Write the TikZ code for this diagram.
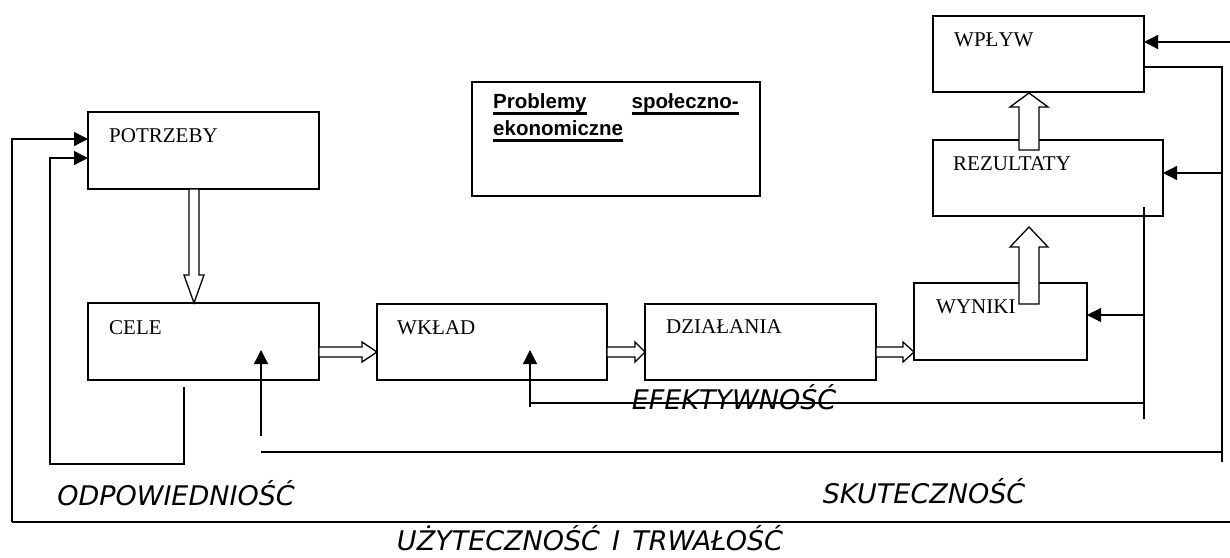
\documentclass[tikz,border=0pt]{standalone}
\usepackage{fontspec}
\setmainfont{Liberation Serif}
\newfontfamily\probfont{Liberation Sans}
\newfontfamily\lblfont{DejaVu Sans}
\usetikzlibrary{arrows.meta,calc}
\newcommand\myul[1]{\setbox0\hbox{#1}\rlap{\vrule height -3.5pt depth 6.5pt width \wd0}\box0}
\tikzset{
  box/.style={draw,line width=1.5pt,anchor=north west,inner sep=0pt,outer sep=0pt},
  btxt/.style={anchor=base west,inner sep=0pt,font=\fontsize{21}{25}\selectfont},
  ptxt/.style={anchor=base west,inner sep=0pt,font=\probfont\bfseries\fontsize{20.5}{25}\selectfont},
  lbl/.style={anchor=base,inner sep=0pt,font=\lblfont\itshape\fontsize{27}{31}\selectfont},
  lnk/.style={line width=1.3pt},
  tip/.style={-{Triangle[length=14pt,width=14pt]}},
  hollow/.style={draw,line width=1.3pt,fill=white,line join=miter},
}
\begin{document}
\begin{tikzpicture}[x=1pt,y=-1pt]
\useasboundingbox (0,0) rectangle (1230,557);
% boxes
\node[box,minimum width=231pt,minimum height=77pt] (pot) at (88,112) {};
\node[box,minimum width=288pt,minimum height=114pt] (prob) at (472,82) {};
\node[box,minimum width=231pt,minimum height=77pt] (cele) at (88,303) {};
\node[box,minimum width=230pt,minimum height=76pt] (wklad) at (377,304) {};
\node[box,minimum width=231pt,minimum height=76pt] (dzial) at (645,304) {};
\node[box,minimum width=173pt,minimum height=77pt] (wyn) at (914,283) {};
\node[box,minimum width=230pt,minimum height=76pt] (rez) at (933,140) {};
\node[box,minimum width=211pt,minimum height=76pt] (wpl) at (933,16) {};
% box texts
\node[btxt] (potT) at (109,142) {POTRZEBY};
\node[btxt] (celeT) at (109,334) {CELE};
\node[btxt] (wkladT) at (397,334) {WKŁAD};
\node[btxt] (dzialT) at (666,333) {DZIAŁANIA};
\node[btxt] (wynT) at (936,313) {WYNIKI};
\node[btxt] (rezT) at (953,170) {REZULTATY};
\node[btxt] (wplT) at (954,46) {WPŁYW};
\node[ptxt] (prob1) at (493,108) {\myul{Problemy}};
\node[ptxt,anchor=base east] (prob2) at (739,108) {\myul{społeczno-}};
\node[ptxt] (prob3) at (493,135) {\myul{ekonomiczne}};
% hollow arrows
\draw[hollow] (189,189) -- (199,189) -- (199,275) -- (204,275) -- (194,303) -- (184,275) -- (189,275) -- cycle;
\draw[hollow] (319,347) -- (362,347) -- (362,342) -- (377,352) -- (362,362) -- (362,357) -- (319,357) -- cycle;
\draw[hollow] (607,347) -- (635,347) -- (635,342) -- (645,352) -- (635,362) -- (635,357) -- (607,357) -- cycle;
\draw[hollow] (876,347) -- (903,347) -- (903,342) -- (914,352) -- (903,362) -- (903,357) -- (876,357) -- cycle;
\draw[hollow] (1019,304) -- (1019,247) -- (1010,247) -- (1029,227) -- (1048,247) -- (1039,247) -- (1039,304) -- cycle;
\draw[hollow] (1019,150) -- (1019,107) -- (1010,107) -- (1029,93) -- (1048,107) -- (1039,107) -- (1039,150) -- cycle;
% outer loop (usefulness and sustainability)
\coordinate (o1) at (1231,42);
\coordinate (o2) at (1231,522);
\coordinate (o3) at (12,522);
\coordinate (o4) at (12,139);
\draw[lnk,tip] (o3) -- (o4) -- (pot.west |- o4);
\draw[lnk] (o3) -- (o2) -- (o1);
\draw[lnk,tip] (o1) -- (wpl.east |- o1);
% relevance loop
\coordinate (i0) at (184,387);
\coordinate (i1) at (184,464);
\coordinate (i2) at (50,464);
\coordinate (i3) at (50,158);
\draw[lnk,tip] (i0) -- (i1) -- (i2) -- (i3) -- (pot.west |- i3);
% effectiveness loop
\coordinate (s1) at (1222,67);
\coordinate (s2) at (1222,462);
\coordinate (s3) at (1222,173);
\coordinate (s4) at (1222,452);
\coordinate (s5) at (261,452);
\coordinate (s6) at (261,436);
\coordinate (s7) at (261,350);
\draw[lnk] (wpl.east |- s1) -- (s1) -- (s2);
\draw[lnk,tip] (s3) -- (rez.east |- s3);
\draw[lnk] (s4) -- (s5);
\draw[lnk,tip] (s6) -- (s7);
% efficiency loop
\coordinate (e1) at (1144,207);
\coordinate (e2) at (1144,419);
\coordinate (e3) at (1144,315);
\coordinate (e4) at (1144,403);
\coordinate (e5) at (530,403);
\coordinate (e6) at (530,407);
\coordinate (e7) at (530,350);
\draw[lnk] (e1) -- (e2);
\draw[lnk,tip] (e3) -- (wyn.east |- e3);
\draw[lnk] (e4) -- (e5);
\draw[lnk,tip] (e6) -- (e7);
% labels
\node[lbl] (lodp) at (176,505) {ODPOWIEDNIOŚĆ};
\node[lbl] (lsku) at (924,503) {SKUTECZNOŚĆ};
\node[lbl] (luzy) at (590,550) {UŻYTECZNOŚĆ\hspace{0.45em}I\hspace{0.45em}TRWAŁOŚĆ};
\node[lbl] (lefe) at (734,409) {EFEKTYWNOŚĆ};
\end{tikzpicture}
\end{document}
